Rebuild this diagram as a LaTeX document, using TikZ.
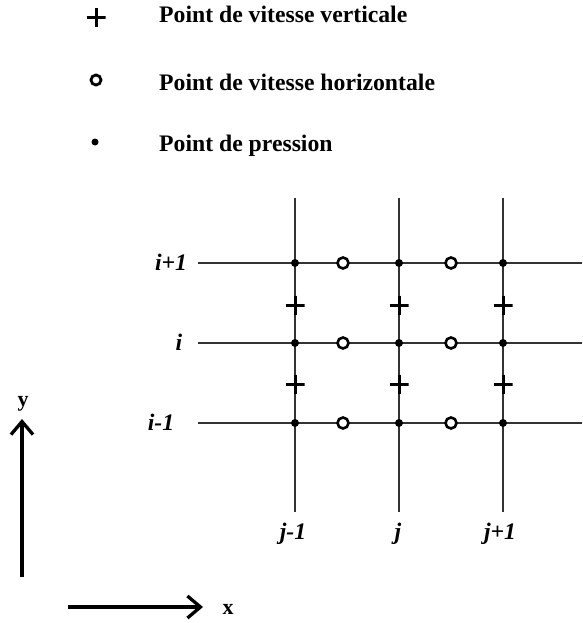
\documentclass[tikz,border=0pt]{standalone}
\usepackage{fontspec}
\setmainfont{Liberation Serif}
\usetikzlibrary{arrows.meta}
\begin{document}
\begin{tikzpicture}[x=1pt,y=-1pt,
  gridline/.style={draw=black!80, line width=1.3pt},
  axisline/.style={draw=black, line width=3.3pt, -{Straight Barb[length=13pt,width=22pt,line width=3.3pt]}},
  pdot/.style={circle, fill=black, inner sep=0pt, minimum size=8pt},
  hcirc/.style={circle, draw=black, line width=2.6pt, fill=white, inner sep=0pt, minimum size=11pt},
  vplus/.style={inner sep=0pt, minimum size=19pt, path picture={
     \draw[line width=3pt] (path picture bounding box.west) -- (path picture bounding box.east);
     \draw[line width=3pt] (path picture bounding box.north) -- (path picture bounding box.south);}},
  legtext/.style={anchor=base west, inner sep=0pt, font=\fontsize{23.7}{28}\selectfont\bfseries},
  idx/.style={anchor=base, inner sep=0pt, font=\fontsize{23.7}{28}\selectfont\bfseries\itshape},
  axlab/.style={inner sep=0pt, font=\fontsize{22}{26}\selectfont\bfseries}
]
\useasboundingbox (0,0) rectangle (582,623);
\fill[white] (0,0) rectangle (582,623);

% legend
\node[vplus] (lplus) at (96,18) {};
\node[hcirc, minimum size=10pt, line width=2.8pt] (lcirc) at (96,80) {};
\node[pdot, minimum size=7pt] (ldot) at (95,142) {};
\node[legtext] (t1) at (159,22.7) {Point de vitesse verticale};
\node[legtext] (t2) at (159,90.7) {Point de vitesse horizontale};
\node[legtext] (t3) at (159,151.7) {Point de pression};

% grid line end points
\coordinate (h1l) at (198,263); \coordinate (h1r) at (582,263);
\coordinate (h2l) at (198,343); \coordinate (h2r) at (582,343);
\coordinate (h3l) at (198,423); \coordinate (h3r) at (582,423);
\coordinate (v1t) at (295,198); \coordinate (v1b) at (295,512);
\coordinate (v2t) at (399,198); \coordinate (v2b) at (399,512);
\coordinate (v3t) at (503,198); \coordinate (v3b) at (503,512);
\draw[gridline] (h1l) -- (h1r);
\draw[gridline] (h2l) -- (h2r);
\draw[gridline] (h3l) -- (h3r);
\draw[gridline] (v1t) -- (v1b);
\draw[gridline] (v2t) -- (v2b);
\draw[gridline] (v3t) -- (v3b);

% pressure points
\foreach \x/\n in {295/a,399/b,503/c}{
  \foreach \y/\m in {263/1,343/2,423/3}{
    \node[pdot] (p\n\m) at (\x,\y) {};
  }
}
% horizontal velocity points
\foreach \x/\n in {343/a,451/b}{
  \foreach \y/\m in {263/1,343/2,423/3}{
    \node[hcirc] (u\n\m) at (\x,\y) {};
  }
}
% vertical velocity points
\foreach \x/\n in {295/a,399/b,503/c}{
  \foreach \y/\m in {305/1,384/2}{
    \node[vplus] (v\n\m) at (\x,\y) {};
  }
}

% index labels
\node[idx] (li1) at (171,270) {i+1};
\node[idx] (li2) at (179,350) {i};
\node[idx] (li3) at (161,430) {i-1};
\node[idx] (lj1) at (293,539) {j-1};
\node[idx] (lj2) at (398,539) {j};
\node[idx] (lj3) at (500,539) {j+1};

% axes
\coordinate (yb) at (22,577); \coordinate (yt) at (22,419);
\coordinate (xl) at (68,607); \coordinate (xr) at (203,607);
\draw[axisline] (yb) -- (yt);
\draw[axisline] (xl) -- (xr);
\node[axlab] (ylab) at (23,404) {y};
\node[axlab] (xlab) at (228,609) {x};
\end{tikzpicture}
\end{document}
